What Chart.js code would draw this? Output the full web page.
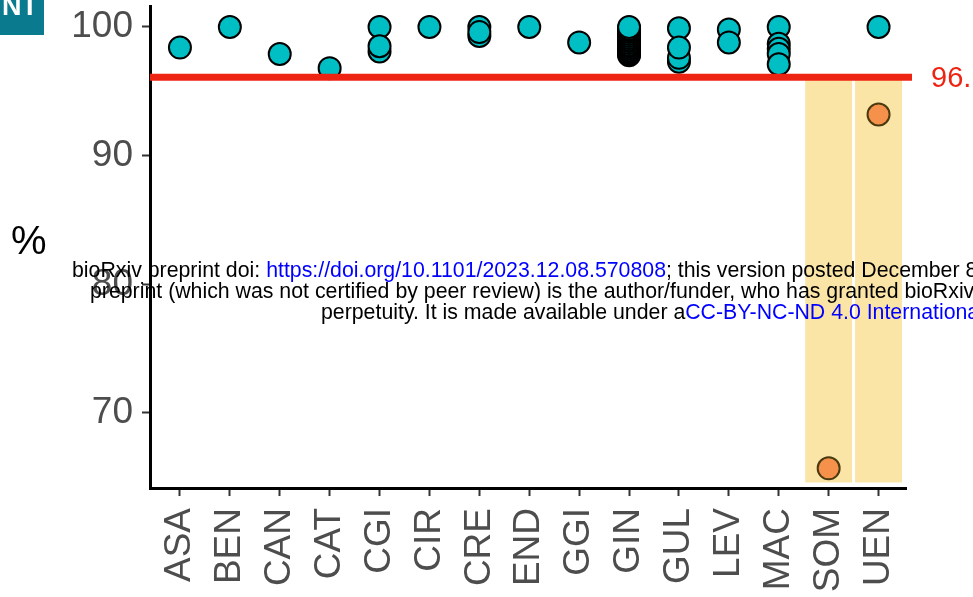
<!DOCTYPE html>
<html>
<head>
<meta charset="utf-8">
<script src="https://cdn.jsdelivr.net/npm/chart.js@4.4.0/dist/chart.umd.min.js"></script>
<style>
  html, body { margin: 0; padding: 0; background: #ffffff; }
  #wrap { width: 973px; height: 597px; position: relative; overflow: hidden; }
</style>
</head>
<body>
<div id="wrap"><canvas id="siteChart" width="973" height="597"></canvas></div>
<script>
// Sites on the x axis
const categories = ['ASA', 'BEN', 'CAN', 'CAT', 'CGI', 'CIR', 'CRE', 'END', 'GGI', 'GIN', 'GUL', 'LEV', 'MAC', 'SOM', 'UEN'];

// Values above the threshold, per site (draw order as in the figure)
const okPct = [
    [98.4],
    [100],
    [97.9],
    [96.8],
    [100, 98.1, 98.5],
    [100],
    [100, 99.3, 99.6],
    [100],
    [98.8],
    [97.8, 97.9, 98.0, 98.1, 98.2, 98.35, 98.5, 98.6, 98.75, 98.9, 99.0, 99.15, 99.3, 99.45, 99.6, 99.75, 99.85, 100],
    [99.9, 97.3, 97.6, 98.4],
    [99.8, 98.8],
    [100, 98.7, 98.3, 97.9, 97.1],
    [],
    [100]
];

// Values below the threshold
const lowSites = ['SOM', 'UEN'];
const lowPct = [65.7, 93.2];

// Highlighted sites and threshold line
const highlightSites = ['SOM', 'UEN'];
const threshold = 96.1;
const shadeBottom = 64.6;
const yTicks = [70, 80, 90, 100];

const FONT = '"Liberation Sans", Arial, Helvetica, sans-serif';

// Build the point lists
const okPoints = [];
okPct.forEach(function(vals, i) {
    vals.forEach(function(v) { okPoints.push({ x: i, y: v }); });
});
const lowPoints = lowSites.map(function(s, i) {
    return { x: categories.indexOf(s), y: lowPct[i] };
});

// Yellow shading behind the low sites
const shadePlugin = {
    id: 'shade',
    beforeDatasetsDraw(chart) {
        const ctx = chart.ctx;
        const xs = chart.scales.x, ys = chart.scales.y;
        ctx.save();
        ctx.fillStyle = '#fbe5a6';
        highlightSites.forEach(function(s) {
            const i = categories.indexOf(s);
            const x0 = xs.getPixelForValue(i - 0.47);
            const x1 = xs.getPixelForValue(i + 0.47);
            const y0 = ys.getPixelForValue(threshold);
            const y1 = ys.getPixelForValue(shadeBottom);
            ctx.fillRect(x0, y0, x1 - x0, y1 - y0);
        });
        ctx.restore();
    }
};

// Red threshold line with its label
const thresholdPlugin = {
    id: 'threshold',
    afterDatasetsDraw(chart) {
        const ctx = chart.ctx;
        const xs = chart.scales.x, ys = chart.scales.y;
        const y = ys.getPixelForValue(threshold);
        ctx.save();
        ctx.strokeStyle = '#ee2413';
        ctx.lineWidth = 7;
        ctx.beginPath();
        ctx.moveTo(xs.left, y);
        ctx.lineTo(xs.right + 6, y);
        ctx.stroke();
        ctx.fillStyle = '#ee2413';
        ctx.font = '29px ' + FONT;
        ctx.textBaseline = 'middle';
        ctx.fillText(threshold.toFixed(1), xs.right + 25, y + 2);
        ctx.restore();
    }
};

// Axis title, panel tag and preprint watermark
const overlayPlugin = {
    id: 'overlay',
    afterDraw(chart) {
        const ctx = chart.ctx;
        ctx.save();
        // y axis title
        ctx.fillStyle = '#000';
        ctx.font = '40px ' + FONT;
        ctx.textBaseline = 'alphabetic';
        ctx.fillText('%', 11, 254);

        // panel tag
        ctx.fillStyle = '#0a7b8e';
        ctx.fillRect(0, 0, 44, 35);
        ctx.fillStyle = '#ffffff';
        ctx.font = 'bold 27px ' + FONT;
        ctx.fillText('NT', 2, 15);

        // watermark
        const lines = [
            { x: 72, y: 277, parts: [
                ['bioRxiv preprint doi: ', '#000'],
                ['https://doi.org/10.1101/2023.12.08.570808', '#0000ff'],
                ['; this version posted December 8, 2023. The copyright holder for this', '#000']
            ] },
            { x: 90, y: 298, parts: [
                ['preprint (which was not certified by peer review) is the author/funder, who has granted bioRxiv a license to display the preprint in', '#000']
            ] },
            { x: 321, y: 319, parts: [
                ['perpetuity. It is made available under a', '#000'],
                ['CC-BY-NC-ND 4.0 International license', '#0000ff'],
                ['.', '#000']
            ] }
        ];
        ctx.font = '21.3px ' + FONT;
        lines.forEach(function(line) {
            let x = line.x;
            line.parts.forEach(function(p) {
                ctx.fillStyle = p[1];
                ctx.fillText(p[0], x, line.y);
                x += ctx.measureText(p[0]).width;
            });
        });
        ctx.restore();
    }
};

const chart = new Chart(document.getElementById('siteChart'), {
    type: 'scatter',
    data: {
        datasets: [{
            data: okPoints,
            backgroundColor: '#00bfc4',
            borderColor: '#000000',
            borderWidth: 2,
            pointRadius: 11,
            pointHoverRadius: 11
        }, {
            data: lowPoints,
            backgroundColor: '#f5914b',
            borderColor: '#4a3a10',
            borderWidth: 2,
            pointRadius: 11,
            pointHoverRadius: 11
        }]
    },
    options: {
        responsive: false,
        animation: false,
        layout: { autoPadding: false, padding: { top: 6, right: 67, left: 0, bottom: 0 } },
        plugins: {
            legend: { display: false },
            tooltip: { enabled: false }
        },
        scales: {
            x: {
                type: 'linear',
                min: -0.6,
                max: 14.55,
                afterBuildTicks: function(scale) {
                    scale.ticks = categories.map(function(c, i) { return { value: i }; });
                },
                afterFit: function(scale) {
                    scale.height = 109;
                    scale.paddingLeft = 0;
                    scale.paddingRight = 0;
                },
                ticks: {
                    autoSkip: false,
                    minRotation: 90,
                    maxRotation: 90,
                    padding: 12,
                    color: '#4d4d4d',
                    font: { family: FONT, size: 37 },
                    callback: function(v) { return categories[v]; }
                },
                grid: {
                    drawOnChartArea: false,
                    drawTicks: true,
                    tickLength: 8,
                    tickColor: '#333333',
                    tickWidth: 2
                },
                border: { display: true, color: '#000000', width: 3 }
            },
            y: {
                min: 64.17,
                max: 101.63,
                afterBuildTicks: function(scale) {
                    scale.ticks = yTicks.map(function(v) { return { value: v }; });
                },
                afterFit: function(scale) {
                    scale.width = 150;
                    scale.paddingTop = 0;
                    scale.paddingBottom = 0;
                },
                ticks: {
                    padding: 9,
                    color: '#4d4d4d',
                    font: { family: FONT, size: 37 }
                },
                grid: {
                    drawOnChartArea: false,
                    drawTicks: true,
                    tickLength: 8,
                    tickColor: '#333333',
                    tickWidth: 2
                },
                border: { display: true, color: '#000000', width: 3 }
            }
        }
    },
    plugins: [shadePlugin, thresholdPlugin, overlayPlugin]
});
</script>
</body>
</html>
